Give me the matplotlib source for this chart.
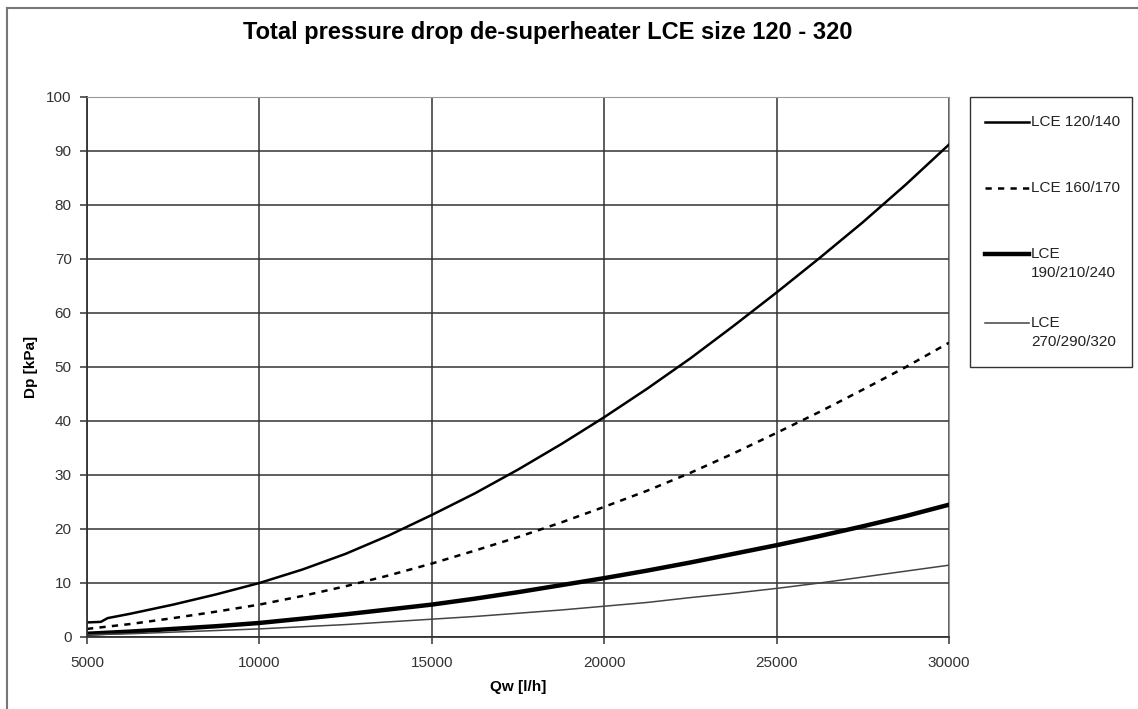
import matplotlib.pyplot as plt
from matplotlib.lines import Line2D
from matplotlib.patches import Rectangle

plt.rcParams['font.family'] = ['Liberation Sans', 'DejaVu Sans']

# flow rate [l/h]
qw = [5000, 6250, 7500, 8750, 10000, 11250, 12500, 13750, 15000, 16250, 17500,
      18750, 20000, 21250, 22500, 23750, 25000, 26250, 27500, 28750, 30000]
qw_a = [5000, 5400, 5600] + qw[1:]

# pressure drop [kPa] per model range
dp_120_140 = [2.7, 2.8, 3.5, 4.3, 6.0, 7.9, 10.0, 12.5, 15.4, 18.8, 22.6, 26.6, 31.0,
              35.7, 40.7, 46.0, 51.6, 57.6, 63.8, 70.2, 76.8, 83.8, 91.2]
dp_160_170 = [1.5, 2.4, 3.5, 4.7, 6.0, 7.6, 9.4, 11.4, 13.6, 16.0, 18.5,
              21.2, 24.1, 27.1, 30.4, 34.0, 37.8, 41.7, 45.8, 50.0, 54.5]
dp_190_240 = [0.6, 1.0, 1.5, 2.0, 2.6, 3.4, 4.2, 5.1, 6.0, 7.1, 8.3,
              9.6, 10.9, 12.3, 13.8, 15.4, 17.0, 18.7, 20.5, 22.4, 24.5]
dp_270_320 = [0.4, 0.6, 0.9, 1.2, 1.5, 1.9, 2.3, 2.8, 3.3, 3.8, 4.4,
              5.0, 5.7, 6.4, 7.3, 8.1, 9.0, 10.0, 11.1, 12.2, 13.3]

labels = ["LCE 120/140", "LCE 160/170", "LCE\n190/210/240", "LCE\n270/290/320"]
xticks = [5000, 10000, 15000, 20000, 25000, 30000]
yticks = list(range(0, 101, 10))

styles = [
    dict(color='black', lw=1.8),
    dict(color='black', lw=1.8, ls=(0, (2.5, 2.5))),
    dict(color='black', lw=3.2),
    dict(color='#444444', lw=1.1),
]

W, H = 1138, 709
fig = plt.figure(figsize=(W / 100, H / 100), dpi=100)
ax = fig.add_axes([87 / W, 1 - 637 / H, (949 - 87) / W, (637 - 97) / H])

ax.plot(qw_a, dp_120_140, **styles[0])
ax.plot(qw, dp_160_170, **styles[1])
ax.plot(qw, dp_190_240, **styles[2])
ax.plot(qw, dp_270_320, **styles[3])

ax.set_xlim(5000, 30000)
ax.set_ylim(0, 100)
ax.set_xticks(xticks)
ax.set_yticks(yticks)
ax.grid(True, color='#333333', lw=1.1)
ax.set_axisbelow(True)
for s in ['top', 'right']:
    ax.spines[s].set_color('#999999')
for s in ['left', 'bottom']:
    ax.spines[s].set_color('#333333')
    ax.spines[s].set_linewidth(1.3)
ax.tick_params(labelsize=11, colors='#333333', length=5, width=1.1)
ax.tick_params(axis='x', pad=9)
ax.tick_params(axis='y', pad=6)

ax.set_xlabel("Qw [l/h]", fontsize=11, fontweight='bold', labelpad=7)
ax.set_ylabel("Dp [kPa]", fontsize=11, fontweight='bold', labelpad=6)

fig.text(548 / W, 1 - 32 / H, "Total pressure drop de-superheater LCE size 120 - 320",
         ha='center', va='center', fontsize=17, fontweight='bold')

# legend box drawn in pixel positions of the figure
fig.add_artist(Rectangle((970 / W, 1 - 367 / H), (1132 - 970) / W, (367 - 97) / H,
                         transform=fig.transFigure, fill=False,
                         edgecolor='#333333', lw=1.0))
handle_y = [122, 188, 254, 323]
for st, lab, hy in zip(styles, labels, handle_y):
    fig.add_artist(Line2D([985 / W, 1029 / W], [1 - hy / H, 1 - hy / H], **st))
    fig.text(1031 / W, 1 - (hy - 7) / H, lab, ha='left', va='top',
             fontsize=11, color='#222222', linespacing=1.45)

# outer chart border (left and top edges visible)
fig.add_artist(Line2D([7 / W, 7 / W], [0, 1 - 8 / H], color='#777777', lw=1.5))
fig.add_artist(Line2D([7 / W, 1], [1 - 8 / H, 1 - 8 / H], color='#777777', lw=1.5))

fig.savefig('out.png', dpi=100)
